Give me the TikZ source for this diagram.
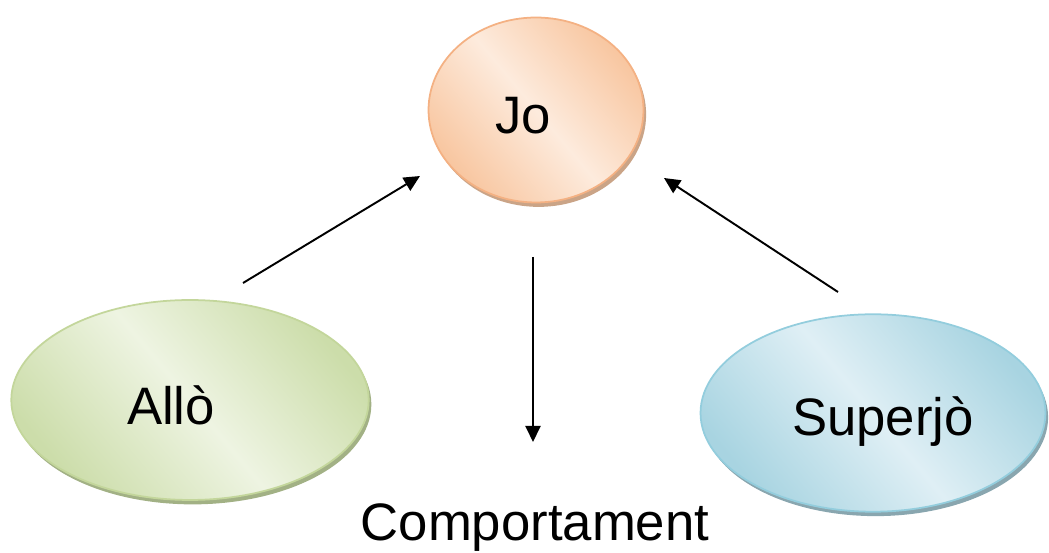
\documentclass[tikz,border=0pt]{standalone}
\usepackage{fontspec}
\setmainfont{Liberation Sans}
\usepackage{tikz}
\usetikzlibrary{positioning,arrows.meta,shapes.geometric,shadows}
\usepackage{xcolor}
\definecolor{joLight}{HTML}{FDEBDD}
\definecolor{joDark}{HTML}{F8C6A0}
\definecolor{joLine}{HTML}{F4B183}
\definecolor{joShade}{HTML}{C49A7A}
\definecolor{alloLight}{HTML}{EEF4E2}
\definecolor{alloDark}{HTML}{CCDDAA}
\definecolor{alloLine}{HTML}{C3D69B}
\definecolor{alloShade}{HTML}{98A878}
\definecolor{superLight}{HTML}{DFEFF5}
\definecolor{superDark}{HTML}{A8D4E1}
\definecolor{superLine}{HTML}{93CDDD}
\definecolor{superShade}{HTML}{7C9CA6}

\begin{document}
\begin{tikzpicture}[
  x=0.02cm, y=-0.02cm,
  font=\fontsize{30}{36}\selectfont,
  bubble/.style={ellipse, inner sep=0pt, line width=1pt},
  jo/.style={bubble, draw=joLine, left color=joDark, right color=joDark, middle color=joLight, shading angle=-50,
    drop shadow={shadow xshift=1.5pt, shadow yshift=-2.5pt, fill=joShade, opacity=0.9}},
  allo/.style={bubble, draw=alloLine, left color=alloDark, right color=alloDark, middle color=alloLight, shading angle=-50,
    drop shadow={shadow xshift=1.5pt, shadow yshift=-2.5pt, fill=alloShade, opacity=0.9}},
  super/.style={bubble, draw=superLine, left color=superDark, right color=superDark, middle color=superLight, shading angle=-50,
    drop shadow={shadow xshift=1.5pt, shadow yshift=-2.5pt, fill=superShade, opacity=0.9}},
  flow/.style={-{Triangle[length=3.2mm, width=3mm]}, line width=1.1pt, black}
]
\useasboundingbox (0,0) rectangle (1049,553);
% ---- the three parts ----
\node[jo, minimum width=4.3cm, minimum height=3.7cm] (jo) at (536,110) {};
\node[allo, minimum width=7.15cm, minimum height=4.0cm] (allo) at (190,400) {};
\node[super, minimum width=6.9cm, minimum height=3.95cm] (super) at (873,413) {};
% ---- labels ----
\node (jotext) at ([xshift=-0.26cm, yshift=-0.12cm]jo.center) {Jo};
\node (allotext) at ([xshift=-0.38cm, yshift=-0.1cm]allo.center) {Allò};
\node (supertext) at ([xshift=0.2cm, yshift=-0.18cm]super.center) {Superjò};
\node[anchor=base] (comp) at (535,541) {Comportament};
% ---- arrow ends ----
\coordinate (a1s) at (243,283);
\coordinate (a1e) at (420,176);
\coordinate (a2s) at (533,257);
\coordinate (a2e) at (533,442);
\coordinate (a3s) at (838,292);
\coordinate (a3e) at (664,178);
% ---- arrows ----
\draw[flow] (a1s) -- (a1e);
\draw[flow] (a2s) -- (a2e);
\draw[flow] (a3s) -- (a3e);
\end{tikzpicture}
\end{document}
